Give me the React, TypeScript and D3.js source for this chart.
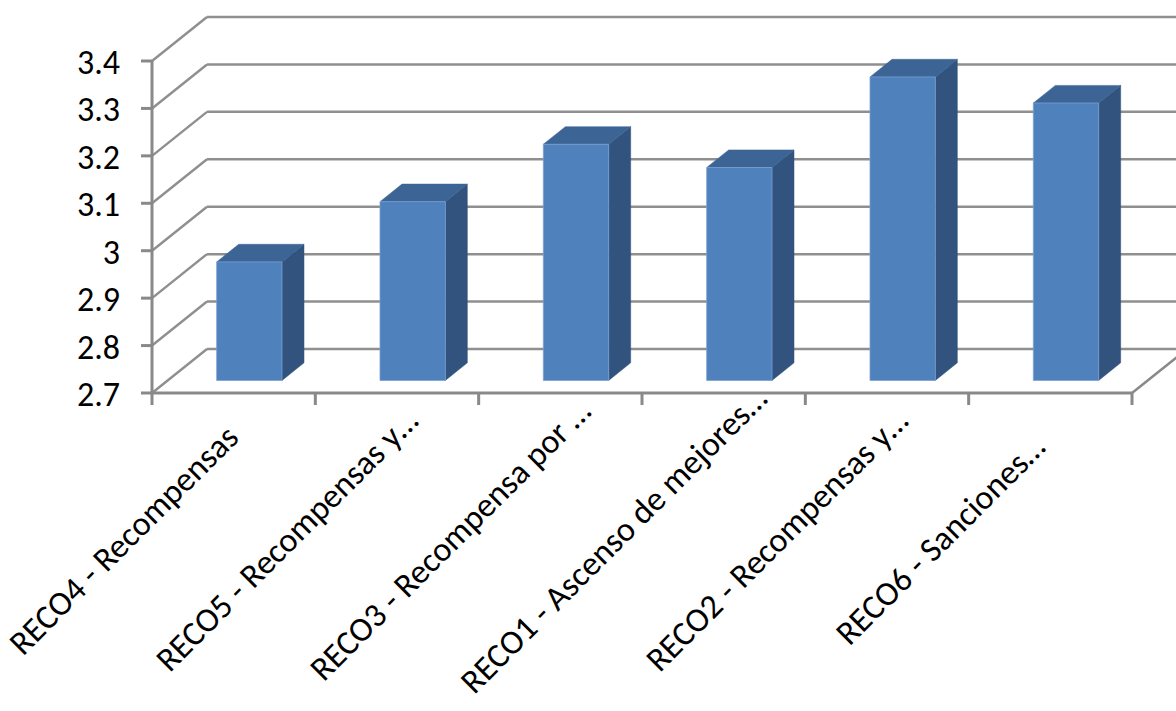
import React from "react";
import * as d3 from "d3";

const categories = [
  "RECO4 - Recompensas",
  "RECO5 - Recompensas y…",
  "RECO3 - Recompensa por …",
  "RECO1 - Ascenso de mejores…",
  "RECO2 - Recompensas y…",
  "RECO6 - Sanciones…",
];
const values = [2.95, 3.077, 3.198, 3.149, 3.34, 3.285];
const yTicks = [2.7, 2.8, 2.9, 3.0, 3.1, 3.2, 3.3, 3.4];
const yTickLabels = ["2.7", "2.8", "2.9", "3", "3.1", "3.2", "3.3", "3.4"];

const W = 1176;
const H = 711;
const DX = 55; // depth offset x
const DY = 44; // depth offset y
const Z0 = 0.285; // bar front depth
const Z1 = 0.685; // bar back depth
const FONT = "Calibri, Carlito, Lato, sans-serif";

export default function App() {
  const x = d3.scaleBand<string>().domain(categories).range([152, 1132]).paddingInner(0).paddingOuter(0);
  const y = d3.scaleLinear().domain([2.7, 3.4]).range([393, 61]);
  const bw = x.bandwidth();
  const barW = bw * 0.4;
  const gridColor = "#8f8f8f";
  const axisColor = "#898989";
  const x0 = x.range()[0];
  const x1 = x.range()[1];
  const yBase = y(2.7);
  const boundaries = d3.range(categories.length + 1).map((i) => x0 + i * bw);

  const pt = (px: number, py: number, z: number) => [px + z * DX, py - z * DY];
  const poly = (pts: number[][]) => pts.map((p) => p.join(",")).join(" ");

  return (
    <svg width={W} height={H} style={{ position: "absolute", left: 0, top: 0, background: "#fff" }}>
      {/* side wall & back wall gridlines */}
      {yTicks.map((t, i) => {
        const yy = y(t);
        const [bx, by] = pt(x0, yy, 1);
        const [ex] = pt(x1, yy, 1);
        return (
          <g key={"g" + i}>
            <line x1={x0} y1={yy} x2={bx} y2={by} stroke={gridColor} strokeWidth={2.5} />
            <line x1={bx} y1={by} x2={ex} y2={by} stroke={gridColor} strokeWidth={2.5} />
          </g>
        );
      })}
      {/* floor right edge */}
      {(() => {
        const [rx, ry] = pt(x1, yBase, 1);
        return <line x1={x1} y1={yBase} x2={rx} y2={ry} stroke={axisColor} strokeWidth={2.5} />;
      })()}
      {/* bars */}
      {categories.map((c, i) => {
        const cx = (x(c) as number) + bw / 2;
        const l = cx - barW / 2;
        const r = cx + barW / 2;
        const top = y(values[i]);
        const ftl = pt(l, top, Z0);
        const ftr = pt(r, top, Z0);
        const fbl = pt(l, yBase, Z0);
        const fbr = pt(r, yBase, Z0);
        const btl = pt(l, top, Z1);
        const btr = pt(r, top, Z1);
        const bbr = pt(r, yBase, Z1);
        return (
          <g key={"b" + i}>
            <polygon points={poly([ftr, btr, bbr, fbr])} fill="#31537d" stroke="#31537d" strokeWidth={0.5} />
            <polygon points={poly([ftl, ftr, btr, btl])} fill="#3c6595" stroke="#3c6595" strokeWidth={0.5} />
            <polygon points={poly([ftl, ftr, fbr, fbl])} fill="#4f81bd" stroke="#7aa0d2" strokeWidth={0.8} />
          </g>
        );
      })}
      {/* value axis */}
      <line x1={x0} y1={y(3.4)} x2={x0} y2={yBase + 1} stroke={axisColor} strokeWidth={3} />
      {yTicks.map((t, i) => (
        <g key={"yt" + i}>
          <line x1={x0 - 11} y1={y(t)} x2={x0} y2={y(t)} stroke={axisColor} strokeWidth={3} />
          <text
            x={120}
            y={y(t) + 1.5}
            textAnchor="end"
            dominantBaseline="central"
            fontFamily={FONT}
            fontSize={34}
            fill="#000"
          >
            {yTickLabels[i]}
          </text>
        </g>
      ))}
      {/* category axis */}
      <line x1={x0 - 1.5} y1={yBase} x2={x1} y2={yBase} stroke={axisColor} strokeWidth={3} />
      {boundaries.map((b, i) => (
        <line key={"xt" + i} x1={b} y1={yBase} x2={b} y2={yBase + 12} stroke={axisColor} strokeWidth={3} />
      ))}
      {categories.map((c, i) => {
        const cx = (x(c) as number) + bw / 2;
        return (
          <text
            key={"xl" + i}
            transform={`translate(${cx - 102},${548}) rotate(-45)`}
            textAnchor="middle"
            fontFamily={FONT}
            fontSize={34}
            fill="#000"
          >
            {c}
          </text>
        );
      })}
    </svg>
  );
}
